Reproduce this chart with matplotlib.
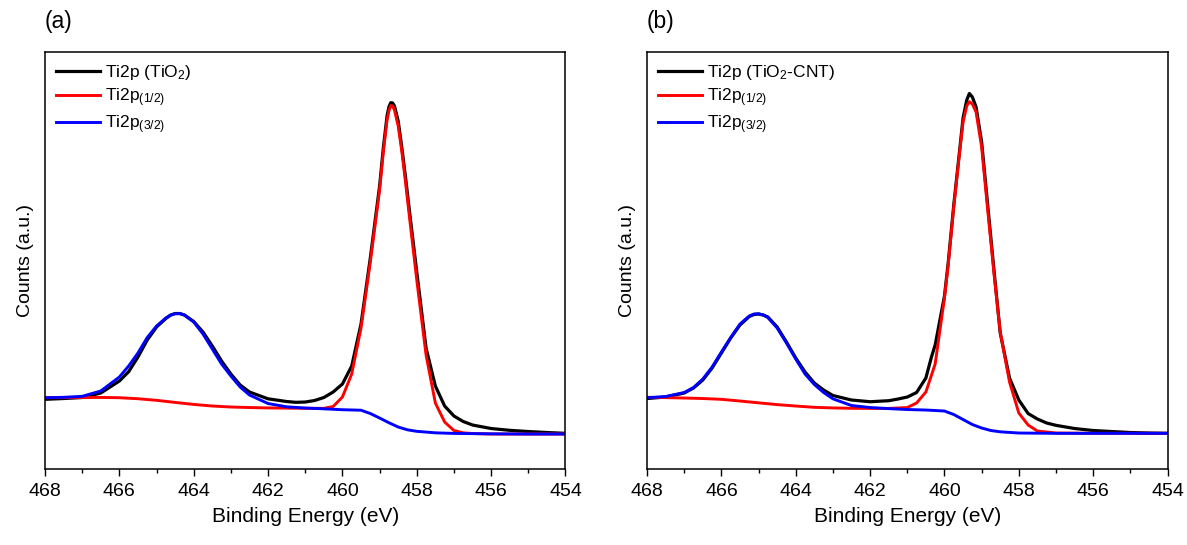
import matplotlib
matplotlib.use("Agg")
import matplotlib.pyplot as plt
from matplotlib.ticker import MultipleLocator

plt.rcParams['font.family'] = ['Liberation Sans', 'DejaVu Sans']
plt.rcParams['mathtext.default'] = 'regular'

# ---- panel (a): TiO2 ----
ea_blk = [468, 467.5, 467, 466.5, 466, 465.75, 465.5, 465.25, 465, 464.75, 464.625, 464.5, 464.375,
          464.25, 464, 463.75, 463.5, 463.25, 463, 462.75, 462.5, 462, 461.5, 461.25, 461, 460.75,
          460.5, 460.25, 460, 459.75, 459.5, 459.25, 459, 458.9, 458.8, 458.75, 458.7, 458.65,
          458.6, 458.5, 458.4, 458.3, 458.2, 458, 457.75, 457.5, 457.25, 457, 456.75, 456.5,
          456, 455.5, 455, 454.5, 454]
ca_blk = [69.7, 70.5, 71.5, 76, 88, 97.3, 112, 129, 142, 150.5, 153.8, 155.5, 155.5,
          154, 147.5, 137, 123, 108, 95, 84, 77, 70.2, 67.5, 66.7, 67, 68.5,
          71.5, 77, 85, 103, 145, 211, 283, 321, 353, 362, 366.3, 366,
          363, 348, 321, 291, 259, 197, 121, 83, 63, 53, 47.5, 44,
          40.5, 38.7, 37.5, 36.5, 35.7]

ea_red = [468, 467.5, 467, 466.5, 466, 465.5, 465, 464.5, 464, 463.5, 463, 462.5, 462, 461.5,
          461, 460.5, 460.25, 460, 459.75, 459.5, 459.25, 459, 458.9, 458.8, 458.75, 458.7,
          458.65, 458.6, 458.5, 458.4, 458.3, 458.2, 458, 457.75, 457.5, 457.25, 457, 456.75,
          456.5, 456, 455, 454]
ca_red = [71.3, 71.4, 71.5, 71.6, 71.3, 70.3, 68.7, 66.6, 64.6, 63, 62, 61.5, 61.1, 60.9,
          60.7, 60.7, 62.5, 72, 95, 141, 207, 279, 317, 349, 358, 363.5,
          363, 359, 343, 317, 286, 253, 189, 114, 66, 47, 38.5, 36.2,
          35.5, 35, 35, 35]

ea_blu = [468, 467.5, 467, 466.5, 466, 465.75, 465.5, 465.25, 465, 464.75, 464.625, 464.5, 464.375,
          464.25, 464, 463.75, 463.5, 463.25, 463, 462.75, 462.5, 462, 461.5, 461, 460.5, 460,
          459.5, 459.25, 459, 458.75, 458.5, 458.25, 458, 457.5, 457, 456, 455, 454]
ca_blu = [71.3, 71.7, 72.7, 78, 92, 103, 116, 131.5, 143, 151, 154, 155.3, 155.4,
          154, 147, 135, 120, 105, 93, 82, 74, 65.5, 62.2, 61, 60.2, 59.3,
          58.8, 55.5, 51, 46.3, 42, 39.2, 37.7, 36.2, 35.6, 35.2, 35, 35]

# ---- panel (b): TiO2-CNT ----
eb_blk = [468, 467.5, 467, 466.75, 466.5, 466.25, 466, 465.75, 465.5, 465.25, 465.125, 465,
          464.875, 464.75, 464.5, 464.25, 464, 463.75, 463.5, 463.25, 463, 462.5, 462, 461.5,
          461.25, 461, 460.75, 460.5, 460.35, 460.25, 460, 459.9, 459.75, 459.6, 459.5, 459.4,
          459.33, 459.25, 459.15, 459, 458.85, 458.65, 458.5, 458.25, 458, 457.75, 457.5,
          457.25, 457, 456.5, 456, 455.5, 455, 454.5, 454]
cb_blk = [70.5, 72, 76, 81, 89, 101, 116, 131, 144, 152.5, 154.5, 155,
          154, 152, 142, 127, 111, 97, 86, 79, 73.5, 69, 67.3, 68.3,
          70, 72, 76.5, 91, 112, 124, 173, 206, 264, 316, 351, 369,
          375.5, 372, 362, 327, 269, 192, 136, 91, 69, 55.5, 50,
          46, 43.7, 40.5, 38.5, 37.5, 36.5, 36, 35.7]

eb_red = [468, 467.5, 467, 466.5, 466, 465.5, 465, 464.5, 464, 463.5, 463, 462.5, 462, 461.5,
          461, 460.75, 460.5, 460.25, 460, 459.9, 459.75, 459.6, 459.5, 459.4, 459.33, 459.25,
          459.15, 459, 458.85, 458.65, 458.5, 458.25, 458, 457.75, 457.5, 457, 456, 454]
cb_red = [71.7, 71.4, 71, 70.5, 69.7, 68, 66.2, 64.4, 63, 61.7, 61.1, 60.7, 60.6, 60.6,
          61.5, 66, 77, 105, 171, 204, 262, 314, 347, 363, 367.3, 365,
          357, 322, 264, 189, 137, 87, 56, 44, 38, 36, 35.7, 35.7]

eb_blu = [468, 467.5, 467, 466.75, 466.5, 466.25, 466, 465.75, 465.5, 465.25, 465.125, 465,
          464.875, 464.75, 464.5, 464.25, 464, 463.75, 463.5, 463.25, 463, 462.5, 462, 461.5,
          461, 460.5, 460, 459.75, 459.5, 459.25, 459, 458.75, 458.5, 458, 457, 454]
cb_blu = [71.3, 72.5, 76.5, 81.5, 90, 102, 117, 131.5, 145, 153, 155, 155.2,
          154, 151.5, 141, 126, 110, 95, 84.5, 76.5, 70.2, 63.5, 61.5, 60.4,
          59.5, 59, 58, 54.5, 49.5, 44.5, 41, 38.5, 37.2, 36, 35.7, 35.7]

panels = [
    ('(a)', 'Ti2p (TiO$_2$)', ea_blk, ca_blk, ea_red, ca_red, ea_blu, ca_blu),
    ('(b)', 'Ti2p (TiO$_2$-CNT)', eb_blk, cb_blk, eb_red, cb_red, eb_blu, cb_blu),
]

fig = plt.figure(figsize=(11.87, 5.45), dpi=100)
lefts = [0.0379, 0.5451]

for left, (tag, name, e_k, c_k, e_r, c_r, e_b, c_b) in zip(lefts, panels):
    ax = fig.add_axes([left, 0.1394, 0.4385, 0.7661])
    ax.plot(e_k, c_k, color='black', lw=2.3, label=name, solid_joinstyle='round')
    ax.plot(e_r, c_r, color='#ff0000', lw=2.1, label='Ti2p$_{(1/2)}$', solid_joinstyle='round')
    ax.plot(e_b, c_b, color='#0000ff', lw=2.1, label='Ti2p$_{(3/2)}$', solid_joinstyle='round')
    ax.set_xlim(468, 454)
    ax.set_ylim(0, 417.5)
    ax.xaxis.set_major_locator(MultipleLocator(2))
    ax.xaxis.set_minor_locator(MultipleLocator(1))
    ax.tick_params(axis='x', which='major', direction='out', length=5, width=1,
                   labelsize=14, pad=5)
    ax.tick_params(axis='x', which='minor', direction='out', length=3, width=1)
    ax.set_yticks([])
    for s in ax.spines.values():
        s.set_linewidth(1.1)
    ax.set_xlabel('Binding Energy (eV)', fontsize=15, labelpad=5)
    ax.set_ylabel('Counts (a.u.)', fontsize=14, labelpad=8)
    ax.legend(loc='upper left', frameon=False, fontsize=12.5, handlelength=2.5,
              handletextpad=0.3, labelspacing=0.25, borderaxespad=0.25,
              bbox_to_anchor=(0.0, 1.0))
    ax.text(0.0, 1.045, tag, transform=ax.transAxes, fontsize=16.5,
            ha='left', va='bottom')

fig.savefig('out.png', dpi=100)
